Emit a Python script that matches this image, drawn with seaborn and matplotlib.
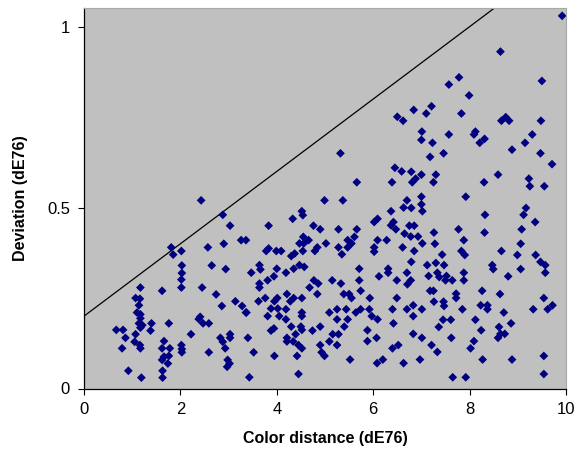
import matplotlib
matplotlib.use("Agg")
import matplotlib.pyplot as plt
import numpy as np
import pandas as pd
import seaborn as sns

# values, grouped by color-distance band
dist_low = [2.43, 2.88, 3.03, 1.81, 1.85, 2.02, 2.57, 2.90, 3.26, 3.36, 2.03, 2.65, 2.94, 2.03,
            2.02, 2.02, 1.17, 1.62, 2.45, 2.74, 2.86, 3.14, 3.28, 3.36, 1.07, 1.16, 1.14, 1.10,
            1.17, 1.17, 1.14, 1.21, 1.17, 1.40, 1.38, 1.76, 0.67, 0.81, 0.86, 1.07, 1.05, 1.16,
            1.17, 0.79, 1.66, 1.62, 1.78, 1.66, 1.76, 1.62, 1.74, 1.63, 1.63, 2.02, 2.03, 2.03,
            2.22, 2.59, 0.92, 1.19, 2.41, 2.38, 2.47, 2.59, 2.83, 2.88, 2.93, 3.03, 3.03, 2.98,
            3.02, 2.97]
dev_low = [0.520, 0.480, 0.450, 0.390, 0.370, 0.380, 0.390, 0.400, 0.410, 0.410, 0.340, 0.340, 0.330, 0.319,
           0.301, 0.279, 0.279, 0.270, 0.279, 0.260, 0.228, 0.241, 0.228, 0.210, 0.250, 0.248, 0.230, 0.210,
           0.205, 0.194, 0.180, 0.175, 0.168, 0.180, 0.160, 0.180, 0.162, 0.162, 0.140, 0.150, 0.129, 0.120,
           0.111, 0.111, 0.131, 0.111, 0.111, 0.088, 0.090, 0.079, 0.069, 0.049, 0.030, 0.120, 0.109, 0.100,
           0.150, 0.100, 0.049, 0.030, 0.198, 0.192, 0.180, 0.180, 0.140, 0.129, 0.111, 0.150, 0.140, 0.079,
           0.069, 0.060]

dist_mid = [5.32, 6.45, 6.59, 5.66, 6.39, 4.99, 5.37, 6.63, 6.37, 4.52, 4.54, 4.33, 6.09, 6.02, 6.42,
            6.37, 6.47, 3.83, 4.76, 4.90, 5.28, 5.66, 4.55, 4.66, 4.47, 4.56, 5.47, 5.61, 5.55, 6.09,
            6.28, 6.65, 5.02, 3.83, 3.78, 3.99, 4.09, 4.37, 4.30, 4.54, 4.84, 4.79, 5.28, 5.35, 5.47,
            6.02, 6.02, 6.61,
            3.47, 3.64, 3.66, 4.00, 3.94, 3.81, 3.64, 3.64, 4.19, 4.35, 4.47, 4.57, 6.31, 6.31, 5.71,
            6.12, 5.71, 6.49, 5.15, 5.33, 4.77, 4.86, 4.68, 5.74, 5.39, 5.50, 5.55, 4.84, 4.21, 4.01,
            3.95, 3.76, 3.62, 4.35, 4.28, 4.52, 5.93, 6.49, 3.37, 3.88, 4.02, 4.19, 4.52, 4.52, 3.81,
            4.05, 4.19, 5.09, 5.25, 5.25, 5.44, 5.64, 5.74, 5.92, 5.97, 6.09, 6.40, 5.47, 6.42, 5.40,
            4.90, 4.74, 4.30, 4.50, 4.52, 3.94, 3.88, 4.39, 3.40, 4.21, 4.21, 4.34, 5.16, 5.28, 5.25,
            5.09, 4.90, 4.45, 4.52, 4.93, 4.99, 5.88, 6.07, 5.88, 6.40, 6.52, 3.52, 3.95, 4.42, 5.52,
            6.08, 6.20, 6.63, 3.43, 4.45]
dev_mid = [0.650, 0.610, 0.600, 0.570, 0.570, 0.520, 0.520, 0.500, 0.490, 0.490, 0.479, 0.469, 0.469, 0.460, 0.460,
           0.451, 0.440, 0.450, 0.450, 0.440, 0.440, 0.440, 0.419, 0.410, 0.401, 0.401, 0.410, 0.419, 0.401, 0.410,
           0.410, 0.428, 0.401, 0.387, 0.380, 0.380, 0.380, 0.373, 0.366, 0.380, 0.390, 0.380, 0.390, 0.371, 0.390,
           0.390, 0.378, 0.390,
           0.320, 0.341, 0.329, 0.331, 0.310, 0.299, 0.290, 0.279, 0.320, 0.331, 0.341, 0.336, 0.331, 0.320, 0.331,
           0.310, 0.299, 0.299, 0.299, 0.290, 0.299, 0.290, 0.279, 0.270, 0.261, 0.261, 0.250, 0.261, 0.261, 0.250,
           0.241, 0.250, 0.241, 0.250, 0.241, 0.250, 0.250, 0.250, 0.210, 0.221, 0.221, 0.219, 0.210, 0.200, 0.200,
           0.200, 0.191, 0.210, 0.219, 0.191, 0.219, 0.210, 0.219, 0.219, 0.200, 0.191, 0.219, 0.191, 0.180, 0.171,
           0.171, 0.160, 0.171, 0.171, 0.162, 0.166, 0.160, 0.150, 0.140, 0.140, 0.130, 0.130, 0.150, 0.150, 0.120,
           0.130, 0.120, 0.120, 0.111, 0.100, 0.090, 0.161, 0.140, 0.131, 0.111, 0.120, 0.100, 0.090, 0.090, 0.080,
           0.070, 0.080, 0.070, 0.031, 0.040]

dist_high = [9.92, 8.64, 9.50, 7.78, 7.57, 7.99, 7.21, 6.84, 7.10, 6.50, 6.62, 7.83, 8.75, 8.66, 8.82,
             9.48, 7.01, 7.57, 8.12, 8.09, 9.30,
             7.00, 7.23, 8.21, 8.31, 9.15, 8.88, 9.47, 7.18, 7.46, 9.71, 6.79, 7.00, 7.30, 6.88, 6.81,
             7.25, 8.59, 8.30, 9.23, 9.25, 9.55, 7.92, 7.00, 6.70, 7.00, 6.79, 7.02, 8.32, 9.17, 9.12,
             9.36, 6.75, 6.85, 7.77, 7.26, 8.31, 9.08, 6.78, 6.93, 7.88, 7.02, 7.28, 9.06, 7.83, 7.90,
             8.66, 8.99, 9.37, 6.85, 7.43]
dev_high = [1.030, 0.931, 0.850, 0.860, 0.840, 0.810, 0.780, 0.770, 0.760, 0.751, 0.740, 0.760, 0.750, 0.740, 0.740,
            0.740, 0.710, 0.702, 0.710, 0.702, 0.702,
            0.687, 0.679, 0.679, 0.690, 0.679, 0.660, 0.650, 0.640, 0.650, 0.620, 0.599, 0.591, 0.591, 0.580, 0.570,
            0.570, 0.591, 0.570, 0.580, 0.559, 0.559, 0.530, 0.530, 0.520, 0.509, 0.499, 0.490, 0.480, 0.499, 0.480,
            0.460, 0.450, 0.450, 0.440, 0.431, 0.431, 0.440, 0.420, 0.420, 0.410, 0.401, 0.400, 0.400, 0.380, 0.369,
            0.380, 0.369, 0.369, 0.380, 0.370]

dist_right = [6.79, 7.12, 7.30, 7.47, 8.47, 8.49, 9.06, 9.47, 9.57, 9.57, 6.70, 7.15, 7.33, 7.37, 7.52,
              7.50, 7.64, 7.88, 7.88, 8.80, 6.78, 6.71, 7.18, 7.25, 7.72, 7.72, 8.26, 8.63, 9.54, 7.26,
              7.46, 7.47, 6.83, 6.70, 7.01, 7.85, 8.23, 8.37, 8.37, 9.32, 9.62, 9.72, 8.71, 6.83, 7.45,
              7.61, 8.12, 7.36, 8.86, 8.61, 8.24, 6.83, 7.01, 7.62, 8.64, 8.73, 8.59, 8.09, 7.21, 8.02,
              7.33, 9.54, 6.97, 8.27, 8.88, 7.65, 7.92, 9.54]
dev_right = [0.350, 0.341, 0.347, 0.341, 0.341, 0.330, 0.330, 0.350, 0.341, 0.320, 0.320, 0.311, 0.320, 0.308, 0.311,
             0.299, 0.299, 0.320, 0.299, 0.310, 0.299, 0.288, 0.270, 0.270, 0.262, 0.250, 0.270, 0.261, 0.250, 0.240,
             0.240, 0.228, 0.230, 0.219, 0.219, 0.219, 0.230, 0.230, 0.219, 0.219, 0.219, 0.230, 0.210, 0.200, 0.190,
             0.190, 0.190, 0.170, 0.180, 0.170, 0.161, 0.151, 0.140, 0.140, 0.151, 0.151, 0.140, 0.131, 0.120, 0.111,
             0.101, 0.090, 0.080, 0.080, 0.080, 0.031, 0.031, 0.040]

# reference line: deviation = 0.2 + 0.1 * distance
line_intercept = 0.2
line_slope = 0.1

x_ticks = [0, 2, 4, 6, 8, 10]
y_ticks = [0, 0.5, 1]
y_tick_labels = ["0", "0.5", "1"]

df = pd.DataFrame({
    "dist": dist_low + dist_mid + dist_high + dist_right,
    "dev": dev_low + dev_mid + dev_high + dev_right,
})

sns.set_style("white")
plt.rcParams["font.family"] = ["Liberation Sans", "DejaVu Sans"]
plt.rcParams["text.color"] = "black"
plt.rcParams["axes.labelcolor"] = "black"
plt.rcParams["xtick.color"] = "black"
plt.rcParams["ytick.color"] = "black"

fig = plt.figure(figsize=(5.77, 4.55), dpi=100)
ax = fig.add_axes([84 / 577, (455 - 388.5) / 455, 482 / 577, 381 / 455])
ax.set_facecolor("#c0c0c0")

sns.scatterplot(data=df, x="dist", y="dev", marker="D", s=20, color="#000080",
                edgecolor="none", linewidth=0, ax=ax, zorder=3)
ax.axline((0, line_intercept), slope=line_slope, color="black", linewidth=0.9, zorder=2)

ax.set_xlim(0, 10)
ax.set_ylim(0, 1.053)
ax.set_xticks(x_ticks)
ax.set_yticks(y_ticks)
ax.set_yticklabels(y_tick_labels)
ax.tick_params(axis="both", direction="out", length=4, width=0.8, colors="black",
               labelsize=12, pad=6, left=True, bottom=True)

for side in ["left", "bottom"]:
    ax.spines[side].set_color("black")
    ax.spines[side].set_linewidth(0.9)
for side in ["top", "right"]:
    ax.spines[side].set_color("#a8a8a8")
    ax.spines[side].set_linewidth(0.8)

ax.set_xlabel("Color distance (dE76)", fontsize=11.5, fontweight="bold", labelpad=10, color="black")
ax.set_ylabel("Deviation (dE76)", fontsize=11.5, fontweight="bold", labelpad=14, color="black")

fig.savefig("out.png", dpi=100)
